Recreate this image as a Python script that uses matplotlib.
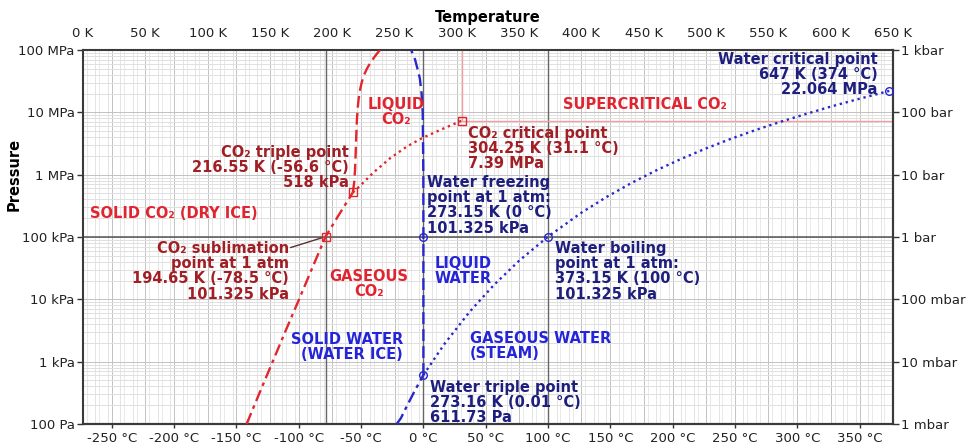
import matplotlib
matplotlib.use('Agg')
import matplotlib.pyplot as plt
from matplotlib.ticker import NullLocator

# ---------------- data ----------------
# CO2 sublimation curve (K, Pa)
co2_sub_T = [131.3, 141.8, 152.2, 162.8, 173.4, 184.0, 194.65, 205.5, 216.55]
co2_sub_P = [1.0e2, 3.2e2, 1.0e3, 3.2e3, 1.0e4, 3.2e4, 1.01325e5, 2.3e5, 5.18e5]
# CO2 melting curve
co2_melt_T = [216.55, 217.6, 218.3, 218.8, 219.3, 219.8, 220.4, 221.2, 222.3, 223.8,
              225.6, 227.8, 230.3, 233.2, 235.8, 238.3]
co2_melt_P = [5.18e5, 7.5e5, 1.19e6, 2.2e6, 4.2e6, 7.5e6, 1.15e7, 1.65e7, 2.3e7, 3.1e7,
              4.0e7, 5.0e7, 6.1e7, 7.4e7, 8.7e7, 1.0e8]
# CO2 vaporization curve
co2_vap_T = [216.55, 222.3, 233.0, 246.4, 259.8, 271.8, 286.5, 304.25]
co2_vap_P = [5.18e5, 6.6e5, 1.08e6, 1.83e6, 2.82e6, 3.83e6, 5.2e6, 7.39e6]

# Water sublimation curve
h2o_sub_T = [251.7, 255.0, 260.0, 265.0, 270.0, 273.16]
h2o_sub_P = [100.0, 123.0, 196.0, 306.0, 470.0, 611.73]
# Water melting curve
h2o_melt_T = [273.16, 273.15, 273.1, 272.6, 271.7, 270.3, 269.0, 266.5, 263.3]
h2o_melt_P = [611.73, 1.01325e5, 1.0e6, 1.0e7, 2.0e7, 3.5e7, 4.5e7, 7.0e7, 1.0e8]
# Water vaporization curve
h2o_vap_T = [273.16, 290, 310, 330, 350, 373.15, 400, 420, 440, 460, 480, 500,
             520, 540, 560, 580, 600, 620, 640, 647.0]
h2o_vap_P = [611.73, 1919, 6231, 17210, 41680, 101325, 2.458e5, 4.370e5, 7.337e5,
             1.171e6, 1.790e6, 2.639e6, 3.765e6, 5.222e6, 7.073e6, 9.394e6,
             1.2345e7, 1.5901e7, 2.0265e7, 2.2064e7]

# special points
co2_pts_T = [216.55, 194.65, 304.25]
co2_pts_P = [5.18e5, 1.01325e5, 7.39e6]
h2o_pts_T = [273.16, 273.15, 373.15, 647.0]
h2o_pts_P = [611.73, 1.01325e5, 1.01325e5, 2.2064e7]
co2_crit_T, co2_crit_P = 304.25, 7.39e6
atm_P = 101325
ref_T_lines = [194.65, 273.15, 373.15]

# ticks
kelvin_ticks = list(range(0, 651, 50))
kelvin_labels = [f'{k} K' for k in kelvin_ticks]
celsius_ticks = list(range(-250, 351, 50))
celsius_labels = [f'{c} °C' for c in celsius_ticks]
pa_ticks = [1e2, 1e3, 1e4, 1e5, 1e6, 1e7, 1e8]
pa_labels = ['100 Pa', '1 kPa', '10 kPa', '100 kPa', '1 MPa', '10 MPa', '100 MPa']
bar_ticks = [1e-3, 1e-2, 1e-1, 1, 10, 100, 1000]
bar_labels = ['1 mbar', '10 mbar', '100 mbar', '1 bar', '10 bar', '100 bar', '1 kbar']

# ---------------- style ----------------
RED = '#e2262c'
BLUE = '#2828cc'
DRED = '#a01e24'
NAVY = '#1e1e7e'
RLAB = '#e02530'
BLAB = '#2424d8'

plt.rcParams['font.family'] = ['DejaVu Sans']

fig = plt.figure(figsize=(9.66, 4.46), dpi=100)
ax = fig.add_axes([83/966, 22/446, 810/966, 374/446])
ax.set_xlim(0, 650)
ax.set_yscale('log')
ax.set_ylim(1e2, 1e8)

# grid
for t in range(0, 651, 10):
    ax.axvline(t, color='#c2c2c2' if t % 50 == 0 else '#e4e4e4', lw=0.7, zorder=0)
for c in range(-270, 380, 10):
    ax.axvline(c + 273.15, color='#c2c2c2' if c % 50 == 0 else '#e9e9e9', lw=0.7, zorder=0)
for d in range(2, 8):
    for m in range(1, 10):
        ax.axhline(m * 10**d, color='#c2c2c2' if m == 1 else '#e0e0e0', lw=0.7, zorder=0)

# reference lines
ax.axhline(atm_P, color='#555555', lw=1.1, zorder=1)
for t in ref_T_lines:
    ax.axvline(t, color='#666666', lw=1.0, zorder=1)
ax.hlines(co2_crit_P, co2_crit_T, 650, color='#f0a0a0', lw=1.0, zorder=1)
ax.vlines(co2_crit_T, co2_crit_P, 1e8, color='#f0a0a0', lw=1.0, zorder=1)

# curves
lw = 1.7
ax.plot(co2_sub_T, co2_sub_P, color=RED, lw=lw, dashes=(5, 2, 1.5, 2), zorder=3)
ax.plot(co2_melt_T, co2_melt_P, color=RED, lw=lw, dashes=(5, 2.2), zorder=3)
ax.plot(co2_vap_T, co2_vap_P, color=RED, lw=lw, dashes=(1.0, 1.6), zorder=3)
ax.plot(h2o_sub_T, h2o_sub_P, color=BLUE, lw=lw, dashes=(5, 2, 1.5, 2), zorder=3)
ax.plot(h2o_melt_T, h2o_melt_P, color=BLUE, lw=lw, dashes=(5, 2.2), zorder=3)
ax.plot(h2o_vap_T, h2o_vap_P, color=BLUE, lw=lw, dashes=(1.0, 1.6), zorder=3)

ax.plot(co2_pts_T, co2_pts_P, ls='none', marker='s', ms=5.5, mfc='none', mec=RED, mew=1.0, zorder=4)
ax.plot(h2o_pts_T, h2o_pts_P, ls='none', marker='o', ms=5.5, mfc='none', mec=BLUE, mew=1.0, zorder=4)

# texts
fs = 10.5
kw = dict(fontsize=fs, fontweight='bold', linespacing=1.02, zorder=5)
ax.text(251.2, 1.01e7, 'LIQUID\nCO₂', color=RLAB, ha='center', va='center', **kw)
ax.text(385.2, 10**7.118, 'SUPERCRITICAL CO₂', color=RLAB, ha='left', va='center', **kw)
ax.text(308.9, 10**6.781, 'CO₂ critical point\n304.25 K (31.1 °C)\n7.39 MPa',
        color=DRED, ha='left', va='top', **kw)
ax.text(213.5, 10**6.476, 'CO₂ triple point\n216.55 K (-56.6 °C)\n518 kPa',
        color=DRED, ha='right', va='top', multialignment='right', **kw)
ax.text(5.6, 10**5.385, 'SOLID CO₂ (DRY ICE)', color=RLAB, ha='left', va='center', **kw)
ax.text(165.3, 10**4.936, 'CO₂ sublimation\npoint at 1 atm\n194.65 K (-78.5 °C)\n101.325 kPa',
        color=DRED, ha='right', va='top', multialignment='right', **kw)
ax.annotate('', xy=(co2_pts_T[1], co2_pts_P[1]), xytext=(166.5, 10**4.83),
            arrowprops=dict(arrowstyle='-', color='#5a3030', lw=1.0, shrinkA=0, shrinkB=3), zorder=5)
ax.text(229.5, 10**4.246, 'GASEOUS\nCO₂', color=RLAB, ha='center', va='center', **kw)
ax.text(256.8, 10**3.235, 'SOLID WATER\n(WATER ICE)', color=BLAB, ha='right', va='center',
        multialignment='right', **kw)
ax.text(282.5, 10**4.454, 'LIQUID\nWATER', color=BLAB, ha='left', va='center', **kw)
ax.text(276.1, 10**5.995, 'Water freezing\npoint at 1 atm:\n273.15 K (0 °C)\n101.325 kPa',
        color=NAVY, ha='left', va='top', **kw)
ax.text(378.8, 10**4.936, 'Water boiling\npoint at 1 atm:\n373.15 K (100 °C)\n101.325 kPa',
        color=NAVY, ha='left', va='top', **kw)
ax.text(310.6, 10**3.251, 'GASEOUS WATER\n(STEAM)', color=BLAB, ha='left', va='center', **kw)
ax.text(278.5, 10**2.706, 'Water triple point\n273.16 K (0.01 °C)\n611.73 Pa',
        color=NAVY, ha='left', va='top', **kw)
ax.text(637.5, 10**7.968, 'Water critical point\n647 K (374 °C)\n22.064 MPa',
        color=NAVY, ha='right', va='top', multialignment='right', **kw)

# axes / ticks
for s in ax.spines.values():
    s.set_color('#3a3a3a')
    s.set_linewidth(1.5)

ax.xaxis.tick_top()
ax.set_xticks(kelvin_ticks)
ax.set_xticklabels(kelvin_labels)
ax.xaxis.set_minor_locator(NullLocator())
ax.tick_params(axis='x', which='major', length=0, pad=7.5, labelsize=9.5, labelcolor='#222222')
ax.set_xlabel('Temperature', fontsize=10.5, fontweight='bold', labelpad=3)
ax.xaxis.set_label_position('top')

ax.set_yticks(pa_ticks)
ax.set_yticklabels(pa_labels)
ax.yaxis.set_minor_locator(NullLocator())
ax.tick_params(axis='y', which='major', length=4, width=1, pad=2, labelsize=9.5,
               labelcolor='#222222', color='#333333')
ax.set_ylabel('Pressure', fontsize=10.5, fontweight='bold')
ax.yaxis.set_label_coords(-0.0753, 0.666)

secx = ax.secondary_xaxis('bottom', functions=(lambda k: k - 273.15, lambda c: c + 273.15))
secx.set_xticks(celsius_ticks)
secx.set_xticklabels(celsius_labels)
secx.xaxis.set_minor_locator(NullLocator())
secx.tick_params(length=3, width=1, pad=3, labelsize=9.5, labelcolor='#222222', color='#333333')
secx.spines['bottom'].set_color('#3a3a3a')
secx.spines['bottom'].set_linewidth(1.5)

secy = ax.secondary_yaxis('right', functions=(lambda p: p / 1e5, lambda b: b * 1e5))
secy.set_yticks(bar_ticks)
secy.set_yticklabels(bar_labels)
secy.yaxis.set_minor_locator(NullLocator())
secy.tick_params(length=4, width=1, pad=2, labelsize=9.5, labelcolor='#222222', color='#333333')
secy.spines['right'].set_color('#3a3a3a')
secy.spines['right'].set_linewidth(1.5)

fig.savefig('out.png', dpi=100)
